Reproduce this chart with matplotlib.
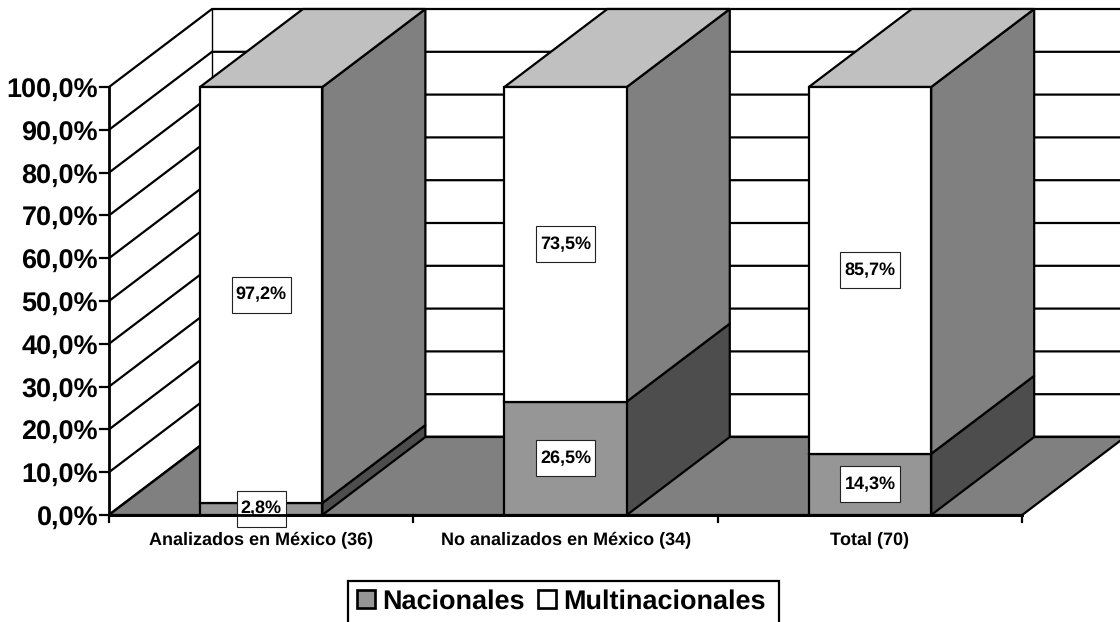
import matplotlib
matplotlib.use("Agg")
import matplotlib.pyplot as plt
from matplotlib.patches import Polygon, Rectangle, Patch

categories = ["Analizados en México (36)", "No analizados en México (34)", "Total (70)"]
nacionales = [2.8, 26.5, 14.3]
multinacionales = [97.2, 73.5, 85.7]
nac_labels = ["2,8%", "26,5%", "14,3%"]
mul_labels = ["97,2%", "73,5%", "85,7%"]
y_ticks = [0, 10, 20, 30, 40, 50, 60, 70, 80, 90, 100]
y_tick_labels = ["0,0%", "10,0%", "20,0%", "30,0%", "40,0%", "50,0%", "60,0%", "70,0%", "80,0%", "90,0%", "100,0%"]
series_names = ["Nacionales", "Multinacionales"]

plt.rcParams["font.family"] = ["Liberation Sans", "DejaVu Sans"]
plt.rcParams["font.weight"] = "bold"
plt.rcParams["text.hinting"] = "no_hinting"
plt.rcParams["text.hinting_factor"] = 1

# oblique projection of (category position, percent, depth) to canvas pixels
X0, Y0, CAT_W, PCT_H, DX, DY = 109.0, 515.0, 304.4, 4.28, 103.0, 78.0
BAR_W = 0.402
LW = 1.6


def P(c, v, z=0.0):
    return (X0 + c * CAT_W + z * DX, Y0 - v * PCT_H - z * DY)


fig = plt.figure(figsize=(11.2, 6.22), dpi=100, facecolor="white")
ax = fig.add_axes([0, 0, 1, 1])
ax.set_xlim(0, 1120)
ax.set_ylim(622, 0)
ax.axis("off")

ncat = len(categories)
edge = dict(edgecolor="black", linewidth=LW, joinstyle="miter")

# back wall vertical and grid lines
ax.plot(*zip(P(0, 0, 1), P(0, 100, 1)), color="black", lw=1.0, zorder=1)
for v in y_ticks:
    w = LW * 1.25 if v == 0 else LW
    ax.plot(*zip(P(0, v, 0), P(0, v, 1), P(ncat, v, 1)), color="black", lw=w, zorder=1,
            solid_joinstyle="miter")

# floor
ax.add_patch(Polygon([P(0, 0, 0), P(0, 0, 1), P(ncat, 0, 1), P(ncat, 0, 0)],
                     facecolor="#808080", zorder=2, **edge))

# stacked bars
for i in range(ncat):
    a = i + 0.5 - BAR_W / 2
    b = i + 0.5 + BAR_W / 2
    n = nacionales[i]
    t = n + multinacionales[i]
    for lo, hi, front, side in [(0, n, "#969696", "#4d4d4d"), (n, t, "#ffffff", "#808080")]:
        ax.add_patch(Polygon([P(b, lo, 0), P(b, lo, 1), P(b, hi, 1), P(b, hi, 0)],
                             facecolor=side, zorder=3, **edge))
        ax.add_patch(Polygon([P(a, lo), P(b, lo), P(b, hi), P(a, hi)],
                             facecolor=front, zorder=4, **edge))
    ax.add_patch(Polygon([P(a, t, 0), P(a, t, 1), P(b, t, 1), P(b, t, 0)],
                         facecolor="#c0c0c0", zorder=3, **edge))

# axis lines, ticks, tick labels
ax.plot(*zip(P(0, 0), P(0, 100)), color="black", lw=LW * 1.25, zorder=5)
for v, lab in zip(y_ticks, y_tick_labels):
    x, y = P(0, v)
    ax.plot([x - 9, x], [y, y], color="black", lw=LW, zorder=5)
    ax.text(x - 11, y + 1, lab, ha="right", va="center_baseline", fontsize=19.2, color="black", zorder=5)
ax.plot(*zip(P(0, 0), P(ncat, 0)), color="black", lw=LW * 1.25, zorder=5)
for c in range(ncat + 1):
    x, y = P(c, 0)
    ax.plot([x, x], [y, y + 7], color="black", lw=LW, zorder=5)
for i, lab in enumerate(categories):
    x, y = P(i + 0.5, 0)
    ax.text(x, 539.5, lab, ha="center", va="center", fontsize=13.3, color="black", zorder=5)

# data labels with white boxes
renderer = fig.canvas.get_renderer()


def data_label(c, v, s):
    x, y = P(c, v)
    t = ax.text(x, y, s, ha="center", va="center", fontsize=13.3, color="black", zorder=9)
    w = t.get_window_extent(renderer).width + 8
    ax.add_patch(Rectangle((x - w / 2, y - 18), w, 36, facecolor="white",
                           edgecolor="#222222", linewidth=0.8, zorder=7))


for i in range(ncat):
    data_label(i + 0.5, nacionales[i] / 2, nac_labels[i])
    data_label(i + 0.5, nacionales[i] + multinacionales[i] / 2, mul_labels[i])

# baseline shows through the smallest label box
ax.plot(*zip(P(0, 0), P(ncat, 0)), color="black", lw=LW * 1.25, zorder=8)

# legend: its frame runs past the bottom edge of the canvas
ax.add_patch(Rectangle((348, 581), 431, 60, facecolor="white", edgecolor="black",
                       linewidth=LW, zorder=9))
handles = [Patch(facecolor="#969696", edgecolor="black", linewidth=LW * 1.2),
           Patch(facecolor="white", edgecolor="black", linewidth=LW * 1.2)]
leg = ax.legend(handles, series_names, ncol=2, loc="center left", bbox_to_anchor=(357, 601.5),
                bbox_transform=ax.transData, frameon=False,
                prop={"size": 19.2, "weight": "bold"}, handlelength=0.67, handleheight=0.62,
                handletextpad=0.28, columnspacing=0.5, borderpad=0, borderaxespad=0)
leg.set_zorder(10)

fig.savefig("out.png", dpi=100)
